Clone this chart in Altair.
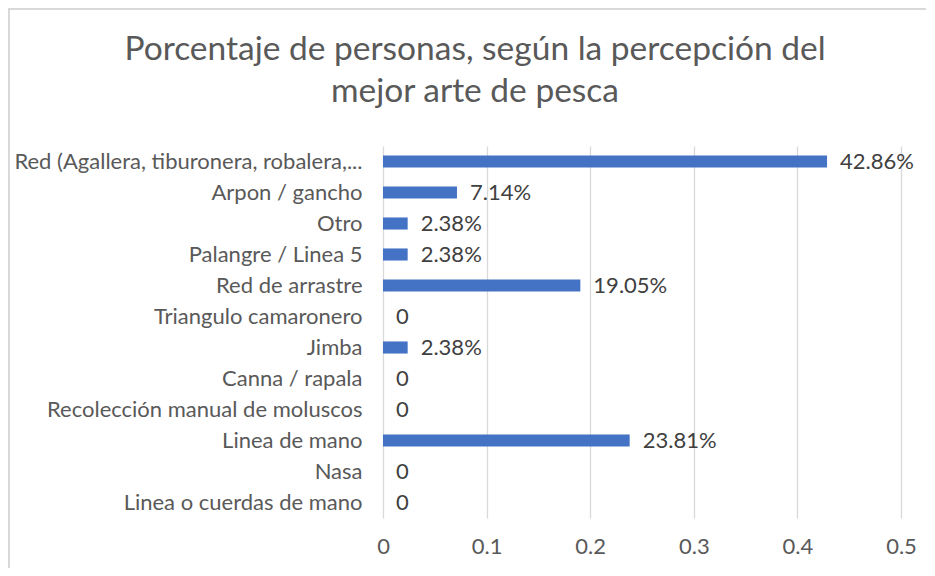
import altair as alt
import pandas as pd

title_lines = ["Porcentaje de personas, según la percepción del", "mejor arte de pesca"]
categories = [
    "Red (Agallera, tiburonera, robalera,...",
    "Arpon / gancho",
    "Otro",
    "Palangre / Linea 5",
    "Red de arrastre",
    "Triangulo camaronero",
    "Jimba",
    "Canna / rapala",
    "Recolección manual de moluscos",
    "Linea de mano",
    "Nasa",
    "Linea o cuerdas de mano",
]
values = [0.4286, 0.0714, 0.0238, 0.0238, 0.1905, 0, 0.0238, 0, 0, 0.2381, 0, 0]
labels = ["42.86%", "7.14%", "2.38%", "2.38%", "19.05%", "0", "2.38%", "0", "0", "23.81%", "0", "0"]
x_ticks = [0, 0.1, 0.2, 0.3, 0.4, 0.5]

df = pd.DataFrame({"cat": categories, "val": values, "lab": labels})

FONT = "Lato"
FS = 22
TFS = 33.5
W, H = 518, 372

y_enc = alt.Y(
    "cat:N",
    sort=categories,
    title=None,
    scale=alt.Scale(paddingInner=0.61, paddingOuter=0.305),
    axis=alt.Axis(domain=False, ticks=False, grid=False, labelFont=FONT,
                  labelFontSize=FS, labelColor="#595959", labelPadding=21,
                  labelLimit=420),
)
x_enc = alt.X(
    "val:Q",
    title=None,
    scale=alt.Scale(domain=[0, 0.5], nice=False),
    axis=alt.Axis(values=x_ticks, domain=False, ticks=False, grid=True,
                  gridColor="#d9d9d9", gridWidth=1.3, labelFont=FONT,
                  labelFontSize=FS, labelColor="#595959", labelPadding=18,
                  labelFlush=False,
                  labelExpr="datum.value == 0 ? '0' : format(datum.value, '.1f')"),
)

bars = alt.Chart(df).mark_bar(color="#4472C4").encode(x=x_enc, y=y_enc)
text = alt.Chart(df).mark_text(
    align="left", baseline="middle", dx=13, font=FONT, fontSize=FS, color="#404040"
).encode(x="val:Q", y=alt.Y("cat:N", sort=categories), text="lab:N")

one = alt.Data(values=[{}])
frame = alt.Chart(one).mark_rect(
    filled=False, stroke="#d9d9d9", strokeWidth=2
).encode(
    x=alt.value(-374), x2=alt.value(600), y=alt.value(-137), y2=alt.value(460)
)

title1 = alt.Chart(one).mark_text(
    text=title_lines[0], font=FONT, fontSize=TFS, color="#595959",
    align="center", baseline="alphabetic"
).encode(x=alt.value(92), y=alt.value(-86))
title2 = alt.Chart(one).mark_text(
    text=title_lines[1], font=FONT, fontSize=TFS, color="#595959",
    align="center", baseline="alphabetic"
).encode(x=alt.value(92), y=alt.value(-44))

chart = alt.layer(frame, title1, title2, bars, text).properties(
    width=W,
    height=H,
    autosize=alt.AutoSizeParams(type="none"),
    padding={"left": 375, "top": 138, "right": 25, "bottom": 50},
).configure_view(stroke=None)

chart.save("out.html", embed_options={"renderer": "svg", "actions": False})
